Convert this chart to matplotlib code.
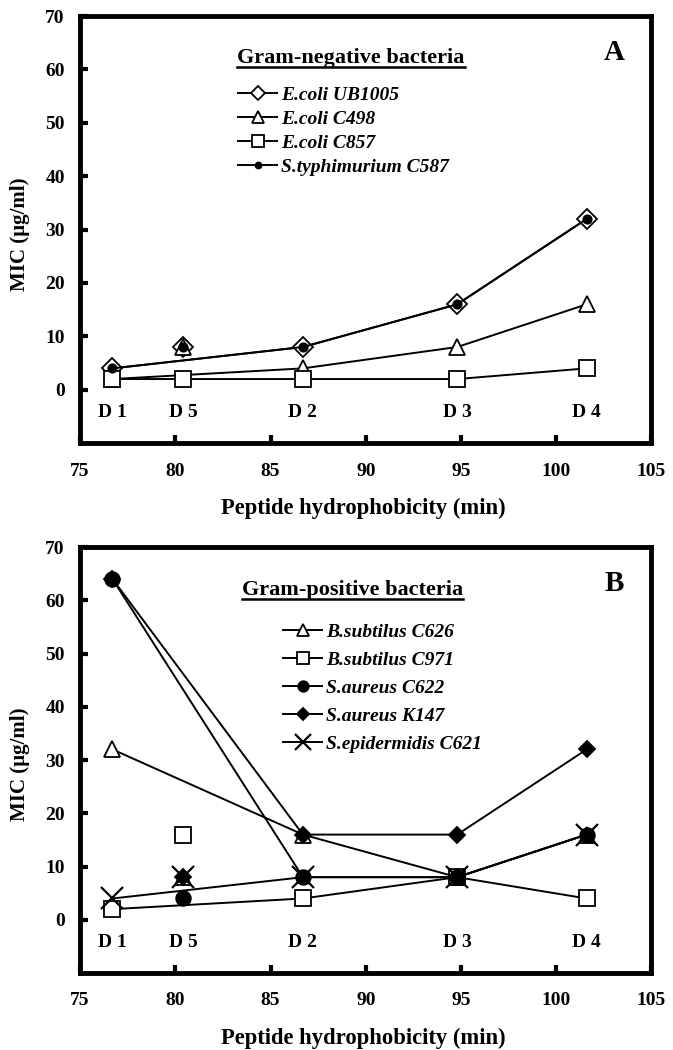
import matplotlib
matplotlib.use("Agg")
import matplotlib.pyplot as plt
from matplotlib.lines import Line2D

plt.rcParams['font.family'] = ['Liberation Serif', 'DejaVu Serif']
plt.rcParams['font.weight'] = 'bold'

# hydrophobicity (retention time, min) of the peptides
hydro = [76.7, 80.4, 86.7, 94.8, 101.6]
peptides = ["D 1", "D 5", "D 2", "D 3", "D 4"]

# panel A: gram-negative MIC (ug/ml), order D1, D5, D2, D3, D4
neg_names = ["E.coli UB1005", "E.coli C498", "E.coli C857", "S.typhimurium C587"]
ecoli_ub1005 = [4, 8, 8, 16, 32]
ecoli_c498 = [2, 8, 4, 8, 16]
ecoli_c857 = [2, 2, 2, 2, 4]
styph_c587 = [4, 8, 8, 16, 32]

# panel B: gram-positive MIC (ug/ml)
pos_names = ["B.subtilus C626", "B.subtilus C971", "S.aureus C622",
             "S.aureus K147", "S.epidermidis C621"]
bsub_c626 = [32, 8, 16, 8, 16]
bsub_c971 = [2, 16, 4, 8, 4]
saur_c622 = [64, 4, 8, 8, 16]
saur_k147 = [64, 8, 16, 16, 32]
sepi_c621 = [4, 8, 8, 8, 16]

neg_series = [ecoli_ub1005, ecoli_c498, ecoli_c857, styph_c587]
pos_series = [bsub_c626, bsub_c971, saur_c622, saur_k147, sepi_c621]

neg_style = [dict(marker='D', ms=10, mfc='white'),
             dict(marker='^', ms=12, mfc='white'),
             dict(marker='s', ms=12, mfc='white'),
             dict(marker='o', ms=6, mfc='black')]
pos_style = [dict(marker='^', ms=12, mfc='white'),
             dict(marker='s', ms=12, mfc='white'),
             dict(marker='o', ms=10.5, mfc='black'),
             dict(marker='D', ms=8, mfc='black'),
             dict(marker='x', ms=16, mfc='black', mew=1.6)]

# D5 is not joined to the lines
line_idx = [0, 2, 3, 4]

fig = plt.figure(figsize=(6.73, 10.5), dpi=100)
axA = fig.add_axes([0.119, 0.578, 0.849, 0.4067])
axB = fig.add_axes([0.119, 0.0733, 0.849, 0.4057])


def draw_panel(ax, series, names, styles, header, letter, hx, hy,
               lx, ly, lspace):
    for vals, name, st in zip(series, names, styles):
        st = dict(st)
        mew = st.pop('mew', 1.3)
        ax.plot([hydro[i] for i in line_idx], [vals[i] for i in line_idx],
                color='black', lw=1.4, mec='black', mew=mew, label=name,
                zorder=3, **st)
        ax.plot([hydro[1]], [vals[1]], ls='none', mec='black', mew=mew,
                zorder=3, **st)
    for x, p in zip(hydro, peptides):
        ax.text(x, -4.3, p, ha='center', va='center', fontsize=14,
                fontweight='bold')
    ax.set_xlim(75, 105)
    ax.set_ylim(-10, 70)
    ax.set_xticks(range(75, 110, 5))
    ax.set_yticks(range(0, 80, 10))
    ax.tick_params(direction='in', width=3, length=6, labelsize=14)
    ax.tick_params(axis='x', pad=14)
    ax.tick_params(axis='y', pad=11)
    for s in ax.spines.values():
        s.set_linewidth(3.5)
    ax.set_xlabel("Peptide hydrophobicity (min)", fontsize=16.3,
                  fontweight='bold')
    ax.set_ylabel("MIC (\u00b5g/ml)", fontsize=15, fontweight='bold')
    ax.xaxis.set_label_coords(0.495, -0.128)
    ax.yaxis.set_label_coords(-0.087, 0.49)
    t = ax.text(hx, hy, header, transform=ax.transAxes, fontsize=16,
                fontweight='bold', ha='left', va='center')
    ax.text(0.935, 0.915, letter, transform=ax.transAxes, fontsize=21,
            fontweight='bold', ha='center', va='center')
    handles, labels = ax.get_legend_handles_labels()
    ax.legend(handles, labels, loc='upper left', bbox_to_anchor=(lx, ly),
              frameon=False, handlelength=2.0, handletextpad=0.2,
              labelspacing=lspace, borderaxespad=0, markerscale=0.72,
              prop=dict(family='Liberation Serif', style='italic',
                        weight='bold', size=14))
    return t


tA = draw_panel(axA, neg_series, neg_names, neg_style,
                "Gram-negative bacteria", "A", 0.275, 0.901,
                0.263, 0.854, 0.33)
tB = draw_panel(axB, pos_series, pos_names, pos_style,
                "Gram-positive bacteria", "B", 0.284, 0.9,
                0.342, 0.84, 0.54)

fig.canvas.draw()
for ax, t in [(axA, tA), (axB, tB)]:
    bb = t.get_window_extent().transformed(ax.transAxes.inverted())
    ax.add_line(Line2D([bb.x0, bb.x1], [bb.y0 + 0.002, bb.y0 + 0.002],
                       transform=ax.transAxes, color='black', lw=1.8))

fig.savefig("out.png", dpi=100)
